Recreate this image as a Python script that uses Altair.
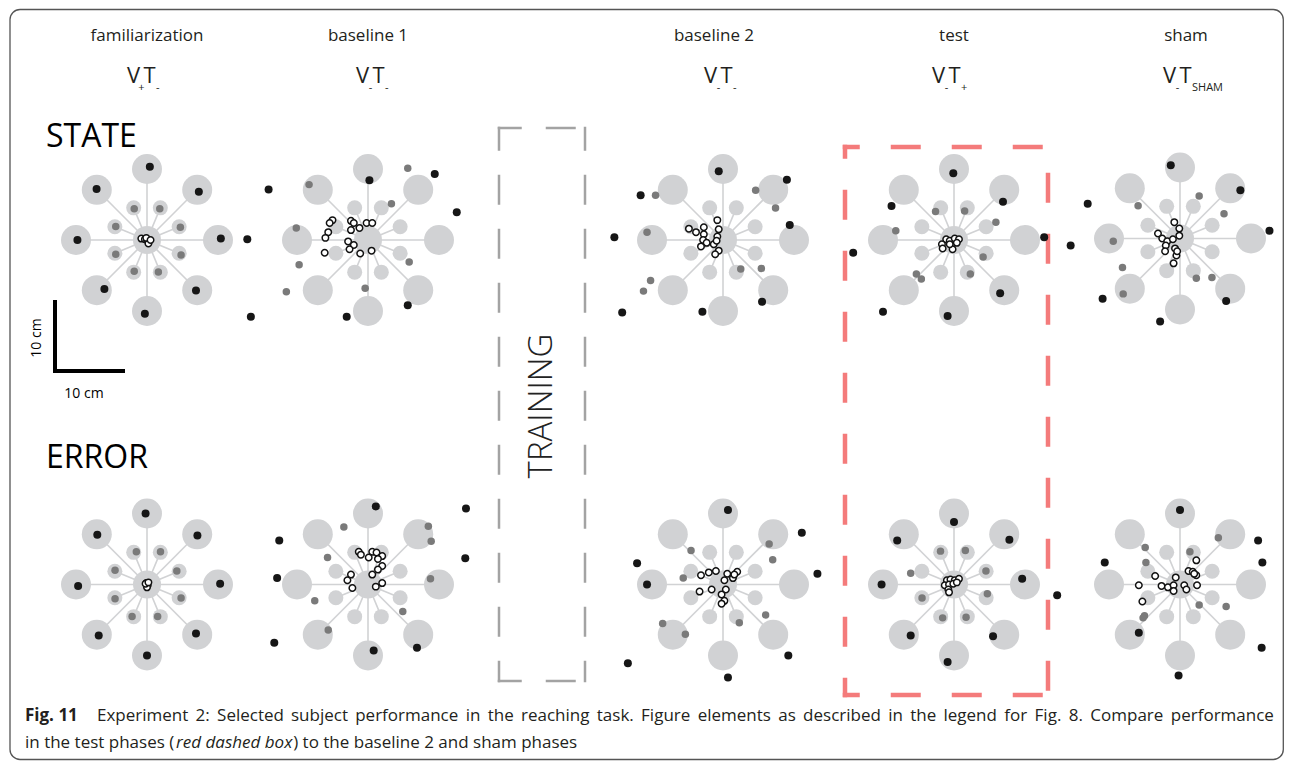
import altair as alt
import pandas as pd
import numpy as np

# ---------------- chart content ----------------
phases = ["familiarization", "baseline 1", "baseline 2", "test", "sham"]
conditions = ["STATE", "ERROR"]
v_sub = ["+", "-", "-", "-", "-"]
t_sub = ["-", "-", "-", "+", "SHAM"]

# target layout (cm from the home target)
outer_angles = [0, 45, 90, 135, 180, 225, 270, 315]
inner_angles = [22.5, 67.5, 112.5, 157.5, 202.5, 247.5, 292.5, 337.5]
outer_radius_cm = 10.0
inner_radius_cm = 4.9

# reach end points, cm (x right, y up) relative to home target
# far = black dots, near = grey dots, home = open circles
fam_state_far = [(0.4, 10.3), (-7.1, 7.2), (7.3, 6.8), (-9.8, 0.0), (10.4, 0.2), (-6.0, -6.9), (6.9, -7.1), (-0.3, -10.4)]
fam_state_near = [(-1.8, 4.4), (1.8, 4.4), (-4.4, 1.9), (4.7, 1.8), (-4.4, -2.0), (4.8, -2.1), (-1.8, -4.4), (1.6, -4.5)]
fam_state_home = [(-0.8, 0.2), (-0.3, 0.1), (0.0, 0.0), (0.3, -0.1), (0.2, -0.5), (-0.1, 0.3), (0.5, 0.0)]

b1_state_far = [(0.2, 8.4), (9.4, 9.3), (12.5, 3.9), (-14.0, 7.1), (-17.0, 0.1), (-16.5, -10.8), (-3.0, -10.8), (5.6, -9.2)]
b1_state_near = [(5.6, 10.1), (-8.3, 7.8), (3.3, 5.1), (-10.1, 1.7), (-9.7, -3.5), (5.8, -3.1), (-11.5, -7.3), (-0.4, -6.8)]
b1_state_home = [(-5.0, 2.8), (-5.4, 2.4), (-5.6, 1.1), (-6.0, 0.3), (-6.1, -1.8), (-2.4, 2.7), (-2.0, 2.4), (-1.2, 1.7),
                 (-0.2, 2.4), (0.6, 2.4), (-2.4, 1.4), (-2.8, -0.2), (-2.0, -0.7), (-2.6, -1.3), (-1.1, -1.9), (0.5, -1.5)]

b2_state_far = [(-0.6, 9.7), (9.0, 8.5), (9.4, 2.1), (-11.6, 6.3), (-15.3, 0.4), (-14.2, -10.2), (-2.9, -10.1), (5.5, -8.7)]
b2_state_near = [(4.6, 7.0), (7.4, 4.5), (-9.5, 6.3), (-10.7, 1.1), (-10.2, -5.7), (-11.2, -7.2), (2.5, -4.1), (5.4, -4.0)]
b2_state_home = [(-0.8, 2.8), (-4.8, 1.6), (-3.8, 1.1), (-2.7, 1.8), (-2.7, 0.8), (-0.6, 1.5), (-0.8, 0.5), (-2.8, 0.0),
                 (-2.3, -0.4), (-3.1, -0.9), (-1.3, -0.6), (-0.6, -1.5), (-1.1, -2.0), (-0.9, -0.1)]

test_state_far = [(-0.1, 9.4), (6.9, 5.4), (12.7, 0.4), (-8.8, 4.8), (-14.2, -1.8), (-10.0, -10.1), (-0.9, -10.7), (6.5, -7.5)]
test_state_near = [(-2.6, 4.0), (1.5, 4.1), (5.9, 2.5), (-8.2, 1.3), (4.1, -2.4), (-5.3, -4.8), (-4.6, -5.5), (2.3, -4.8)]
test_state_home = [(-1.1, 0.1), (-0.6, -0.1), (0.1, 0.2), (0.7, 0.1), (-1.7, -0.6), (-1.6, -1.2), (-0.2, -1.3), (-0.6, -0.6), (0.4, -0.4)]

sham_state_far = [(-1.3, 10.3), (8.5, 6.8), (12.6, 1.1), (-13.0, 4.9), (-15.4, -1.0), (-10.9, -8.5), (-2.8, -11.7), (6.5, -8.8)]
sham_state_near = [(2.7, 6.0), (-5.9, 4.6), (6.2, 3.5), (-9.4, -0.4), (-8.1, -4.1), (-8.0, -7.8), (2.3, -5.6), (4.5, -5.5)]
sham_state_home = [(-0.8, 2.3), (-0.1, 1.4), (-0.1, 0.4), (-3.1, 0.7), (-2.5, 0.0), (-1.8, -0.4), (-1.0, -0.1), (-2.0, -1.0),
                   (-2.1, -1.8), (-0.7, -1.4), (-0.5, -2.4), (-0.9, -3.5), (-0.4, -1.8)]

fam_error_far = [(-0.2, 10.0), (7.1, 6.9), (10.3, 0.1), (-7.0, 7.0), (-9.7, -0.2), (-6.8, -7.2), (6.9, -6.9), (0.0, -10.0)]
fam_error_near = [(-1.5, 4.6), (1.9, 4.6), (-4.5, 2.0), (4.2, 1.9), (-4.5, -2.0), (4.8, -1.9), (-2.1, -4.5), (1.5, -4.5)]
fam_error_home = [(-0.1, 0.2), (0.1, -0.1), (0.0, -0.4), (-0.2, 0.1), (0.2, 0.3)]

b1_error_far = [(1.1, 11.0), (13.8, 10.7), (13.7, 3.7), (-12.5, 6.2), (-12.8, 0.9), (-13.2, -8.2), (0.8, -9.3), (6.9, -8.9)]
b1_error_near = [(-3.4, 8.1), (8.5, 8.2), (8.9, 6.1), (-5.7, 3.8), (8.8, 0.8), (-7.5, -2.3), (4.9, -3.8), (-5.6, -6.4)]
b1_error_home = [(-1.3, 4.6), (-1.0, 4.2), (0.6, 4.6), (1.2, 4.5), (2.0, 4.0), (0.1, 3.8), (1.4, 3.6), (2.0, 2.6),
                 (1.4, 2.1), (0.6, 1.4), (-2.4, 1.4), (-2.9, 0.6), (-2.2, -0.5), (2.0, 0.2), (1.1, -0.3)]

b2_error_far = [(0.7, 10.5), (11.1, 7.3), (13.3, 1.5), (-12.1, 3.0), (-10.7, 0.0), (-13.4, -11.1), (0.7, -13.1), (9.2, -10.0)]
b2_error_near = [(-4.5, 4.8), (6.5, 5.7), (7.0, 3.5), (-5.6, 0.9), (-8.5, -5.5), (-5.3, -7.0), (2.3, -5.4), (6.0, -4.3)]
b2_error_home = [(-3.1, 1.3), (-2.0, 1.7), (-1.0, 1.9), (0.6, 1.5), (1.4, 0.9), (2.0, 1.8), (1.6, 1.4), (0.2, 0.6),
                 (-3.3, -1.0), (-1.6, -0.7), (0.4, -0.7), (-0.2, -1.4), (0.2, -2.3), (-0.2, -2.7)]

test_error_far = [(0.0, 8.8), (7.8, 6.3), (9.6, 0.8), (-8.0, 6.2), (-10.2, 0.0), (-6.1, -7.2), (5.5, -7.3), (-0.9, -10.9)]
test_error_near = [(-1.9, 4.7), (1.6, 4.8), (-6.1, 1.6), (4.5, 1.9), (-4.5, -1.9), (4.7, -1.3), (-1.6, -4.7), (1.7, -4.6)]
test_error_home = [(-1.0, 0.6), (-0.5, 0.7), (0.1, 0.6), (0.7, 0.8), (-1.3, -0.1), (-0.7, 0.0), (-0.8, -0.7), (-0.7, -1.1),
                   (-0.1, 0.1), (0.4, 0.3)]

sham_error_far = [(0.0, 10.5), (11.0, 6.2), (11.6, 3.1), (-10.6, 3.1), (-17.3, -1.5), (-5.8, -6.8), (11.5, -8.9), (-0.2, -12.8)]
sham_error_near = [(-4.9, 5.2), (-4.8, 3.1), (1.4, 4.6), (5.4, 6.6), (2.7, -2.9), (6.5, -3.1), (-5.0, -4.4), (-5.2, -4.7)]
sham_error_home = [(2.3, 3.4), (1.2, 1.9), (1.8, 1.8), (2.3, 1.3), (2.0, 1.5), (-3.5, 1.2), (-0.6, 1.0), (-5.8, -0.1),
                   (-2.6, -0.2), (-1.7, -0.4), (-0.9, -0.1), (-0.9, -0.9), (0.6, -0.1), (0.9, -0.7), (2.4, -0.1), (-5.3, -2.4)]

caption_bold = "Fig. 11"
caption_line1 = "Experiment 2: Selected subject performance in the reaching task. Figure elements as described in the legend for Fig. 8. Compare performance"
caption_line2a = "in the test phases ("
caption_italic = "red dashed box"
caption_line2b = ") to the baseline 2 and sham phases"

# ---------------- layout (page pixels) ----------------
PX_PER_CM = 7.1
W, H = 1276, 752
panel_cx = [147, 368, 723, 954, 1180]
panel_cy_state = [239, 239, 239, 239, 237.5]
panel_cy_error = [583.5] * 5
title_x = [147, 368, 714, 954, 1186]
vt_left = [128, 357, 705, 933, 1164]

panel_points = {
    ("familiarization", "STATE"): (fam_state_far, fam_state_near, fam_state_home),
    ("baseline 1", "STATE"): (b1_state_far, b1_state_near, b1_state_home),
    ("baseline 2", "STATE"): (b2_state_far, b2_state_near, b2_state_home),
    ("test", "STATE"): (test_state_far, test_state_near, test_state_home),
    ("sham", "STATE"): (sham_state_far, sham_state_near, sham_state_home),
    ("familiarization", "ERROR"): (fam_error_far, fam_error_near, fam_error_home),
    ("baseline 1", "ERROR"): (b1_error_far, b1_error_near, b1_error_home),
    ("baseline 2", "ERROR"): (b2_error_far, b2_error_near, b2_error_home),
    ("test", "ERROR"): (test_error_far, test_error_near, test_error_home),
    ("sham", "ERROR"): (sham_error_far, sham_error_near, sham_error_home),
}

pts, tg, sp = [], [], []
for i, ph in enumerate(phases):
    for cond in conditions:
        cx = panel_cx[i]
        cy = panel_cy_state[i] if cond == "STATE" else panel_cy_error[i]
        far, near, home = panel_points[(ph, cond)]
        for kind, lst in (("far", far), ("near", near), ("home", home)):
            for (x, y) in lst:
                pts.append(dict(px=cx + x * PX_PER_CM, py=cy - y * PX_PER_CM, kind=kind))
        tg.append(dict(px=cx, py=cy, kind="center"))
        for kind, r, angs in (("outer", outer_radius_cm, outer_angles), ("inner", inner_radius_cm, inner_angles)):
            for a in angs:
                tx = cx + r * np.cos(np.radians(a)) * PX_PER_CM
                ty = cy - r * np.sin(np.radians(a)) * PX_PER_CM
                tg.append(dict(px=tx, py=ty, kind=kind))
                sp.append(dict(px=cx, py=cy, px2=tx, py2=ty))
pts = pd.DataFrame(pts)
tg = pd.DataFrame(tg)
sp = pd.DataFrame(sp)

xs = alt.Scale(domain=[8, 8 + W], nice=False, zero=False)
ys = alt.Scale(domain=[8, 8 + H], nice=False, zero=False, reverse=True)
X = alt.X("px:Q", scale=xs, axis=None)
Y = alt.Y("py:Q", scale=ys, axis=None)

LIGHT = "#d1d2d4"
FONT = "Open Sans"
TXT = "#231f20"

spokes = alt.Chart(sp).mark_rule(color=LIGHT, strokeWidth=1.6).encode(x=X, y=Y, x2="px2:Q", y2="py2:Q")
outer_t = alt.Chart(tg[tg.kind == "outer"]).mark_circle(size=900, color=LIGHT, opacity=1).encode(x=X, y=Y)
inner_t = alt.Chart(tg[tg.kind == "inner"]).mark_circle(size=225, color=LIGHT, opacity=1).encode(x=X, y=Y)
center_t = alt.Chart(tg[tg.kind == "center"]).mark_circle(size=784, color=LIGHT, opacity=1).encode(x=X, y=Y)
near_p = alt.Chart(pts[pts.kind == "near"]).mark_circle(size=56, color="#7a7a7a", opacity=1).encode(x=X, y=Y)
far_p = alt.Chart(pts[pts.kind == "far"]).mark_circle(size=64, color="#161616", opacity=1).encode(x=X, y=Y)
home_p = alt.Chart(pts[pts.kind == "home"]).mark_point(size=42, shape="circle", filled=True, fill="white",
                                                       stroke="#111111", strokeWidth=1.5, opacity=1).encode(x=X, y=Y)

# frame
frame_df = pd.DataFrame([dict(px=10, py=8.5, px2=1283.3, py2=758.5)])
frame = alt.Chart(frame_df).mark_rect(fillOpacity=0, stroke="#555555", strokeWidth=1.3, cornerRadius=10).encode(
    x=X, y=Y, x2="px2:Q", y2="py2:Q")


def dashed_box(x0, y0, x1, y1, color, width, dash, offs):
    h = width / 2
    edges = pd.DataFrame([
        dict(px=x0 - h, py=y0, px2=x1 + h, py2=y0, e="top"),
        dict(px=x0, py=y0 - h, px2=x0, py2=y1 + h, e="left"),
        dict(px=x1, py=y0 - h, px2=x1, py2=y1 + h, e="right"),
        dict(px=x0 - h, py=y1, px2=x1 + h, py2=y1, e="bottom"),
    ])
    layers = []
    for k, e in enumerate(["top", "left", "right", "bottom"]):
        layers.append(alt.Chart(edges[edges.e == e]).mark_rule(
            color=color, strokeWidth=width, strokeDash=dash, strokeDashOffset=offs[k], strokeCap="butt"
        ).encode(x=X, y=Y, x2="px2:Q", y2="py2:Q"))
    return layers


train_box = dashed_box(499, 127, 585, 680, "#a3a3a3", 2.5, [30, 24], [6, 6, 6, 6])
red_box = dashed_box(845, 146, 1048, 694, "#f47b7b", 4.5, [30, 31], [13, 16, 33, 13])

# scale bar (10 cm)
bar_df = pd.DataFrame([dict(px=55, py=299, px2=55, py2=299 + 10 * PX_PER_CM + 2),
                       dict(px=53, py=370, px2=53 + 10 * PX_PER_CM + 1, py2=370)])
scale_bar = alt.Chart(bar_df).mark_rule(color="black", strokeWidth=4).encode(x=X, y=Y, x2="px2:Q", y2="py2:Q")


def txt(df, **kw):
    base = dict(font=FONT, color=TXT)
    base.update(kw)
    return alt.Chart(pd.DataFrame(df)).mark_text(**base).encode(x=X, y=Y, text="t:N")


# approximate Open Sans advance widths (em) used to justify the caption's first line
OS_W = {" ": .26, "(": .295, ")": .295, ",": .245, "-": .322, ".": .266, ":": .266,
        "C": .634, "E": .552, "F": .515, "S": .539,
        "a": .556, "b": .613, "c": .476, "d": .613, "e": .561, "f": .339, "g": .548, "h": .614, "i": .253,
        "j": .253, "k": .525, "l": .253, "m": .930, "n": .614, "o": .604, "p": .613, "q": .613, "r": .408,
        "s": .477, "t": .353, "u": .614, "v": .501, "w": .778, "x": .524, "y": .502, "z": .477}


def tw(s, fs):
    return sum(OS_W.get(c, .572 if c.isdigit() else .55) for c in s) * fs


CAP_FS = 17
words = caption_line1.split(" ")
x_start, x_end = 97, 1274
gap = (x_end - x_start - sum(tw(w, CAP_FS) for w in words)) / (len(words) - 1)
line1_rows, xpos = [], x_start
for w in words:
    line1_rows.append(dict(px=xpos, py=720, t=w))
    xpos += tw(w, CAP_FS) + gap
x_it = 25 + tw(caption_line2a, CAP_FS) + 2
x_2b = x_it + tw(caption_italic, CAP_FS) * 0.93 + 2

titles = txt([dict(px=title_x[i], py=40, t=phases[i]) for i in range(5)], fontSize=17, align="center",
             baseline="alphabetic")
v_main = txt([dict(px=vt_left[i] + 5.5, py=82, t="V") for i in range(5)]
             + [dict(px=vt_left[i] + 21.5, py=82, t="T") for i in range(5)],
             fontSize=22, align="center", baseline="alphabetic")
v_subs = txt([dict(px=vt_left[i] + 13.5, py=90, t=v_sub[i]) for i in range(5)], fontSize=11, align="center",
             baseline="alphabetic")
t_subs = txt([dict(px=vt_left[i] + 28, py=90, t=t_sub[i]) for i in range(5)], fontSize=11, align="left",
             baseline="alphabetic")
cond_lbl = txt([dict(px=46, py=146, t="STATE"), dict(px=46, py=467, t="ERROR")], fontSize=32, align="left",
               baseline="alphabetic", color="black")
cm_h = txt([dict(px=84, py=397, t="10 cm")], fontSize=14, align="center", baseline="alphabetic", color="black")
cm_v = txt([dict(px=37, py=337, t="10 cm")], fontSize=14, align="center", baseline="middle", angle=270,
           color="black")
training = txt([dict(px=542, py=405, t="TRAINING")], fontSize=33, align="center", baseline="middle", angle=270,
               fontWeight=300, color="#222222")
cap_b = txt([dict(px=25, py=720, t=caption_bold)], fontSize=CAP_FS, align="left", baseline="alphabetic",
            fontWeight="bold")
cap_1 = txt(line1_rows, fontSize=CAP_FS, align="left", baseline="alphabetic")
cap_2a = txt([dict(px=25, py=747, t=caption_line2a)], fontSize=CAP_FS, align="left", baseline="alphabetic")
cap_it = txt([dict(px=x_it, py=747, t=caption_italic)], fontSize=CAP_FS, align="left", baseline="alphabetic",
             fontStyle="italic")
cap_2b = txt([dict(px=x_2b, py=747, t=caption_line2b)], fontSize=CAP_FS, align="left", baseline="alphabetic")

chart = alt.layer(
    frame, *train_box, *red_box, spokes, outer_t, inner_t, center_t, near_p, far_p, home_p, scale_bar,
    titles, v_main, v_subs, t_subs, cond_lbl, cm_h, cm_v, training, cap_b, cap_1, cap_2a, cap_it, cap_2b
).properties(width=W, height=H, padding=0, background="white").configure_view(stroke=None)

chart.save("out.html", embed_options={"renderer": "svg", "actions": False})
